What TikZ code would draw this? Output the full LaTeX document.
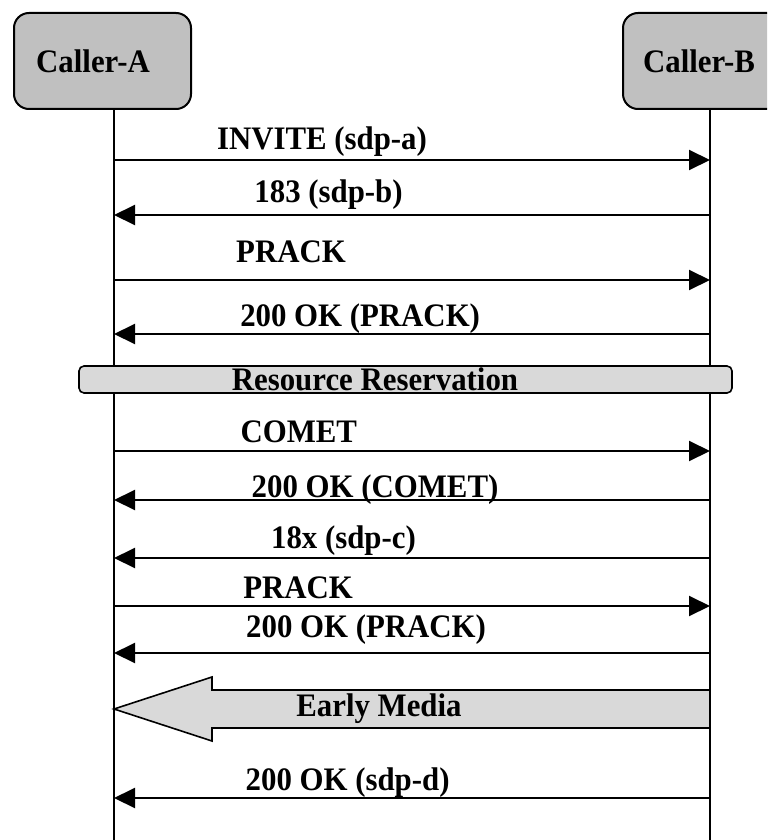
\documentclass[tikz,border=0pt]{standalone}
\usepackage{fontspec}
\setmainfont{Liberation Serif}[FakeStretch=0.94]
\usetikzlibrary{arrows.meta}
\definecolor{boxG}{RGB}{192,192,192}
\definecolor{barG}{RGB}{217,217,217}

\begin{document}
\begin{tikzpicture}[x=0.5pt,y=-0.5pt,>={Triangle[length=10.5pt,width=10pt]},
  txt/.style={font=\bfseries\fontsize{16.4}{19}\selectfont,inner sep=0pt},
  party/.style={draw,line width=1pt,rounded corners=7.5pt,fill=boxG,minimum width=88.5pt,minimum height=48pt},
  resbar/.style={draw,line width=0.8pt,rounded corners=2.5pt,fill=barG,minimum width=326.5pt,minimum height=13.5pt},
  msg/.style={line width=1pt},
  life/.style={line width=0.8pt}]
\useasboundingbox (0,0) rectangle (767,840);
\clip (0,0) rectangle (767,840);
% parties and lifelines
\node[party,label={[txt,xshift=-4.75pt]center:Caller-A}] (callerA) at (102.5,61) {};
\node[party,label={[txt,xshift=-6.25pt]center:Caller-B}] (callerB) at (711.5,61) {};
\coordinate (topA) at (114,109);
\coordinate (botA) at (114,840);
\coordinate (topB) at (710,109);
\coordinate (botB) at (710,840);
\draw[life] (topA) -- (botA);
\draw[life] (topB) -- (botB);
\foreach \y [count=\i] in {160,215,280,334,451,500,558,606,653,798}{
  \coordinate (a\i) at (114,\y);
  \coordinate (b\i) at (710,\y);
}
% offer / answer
\draw[msg,->] (a1) -- node[txt,pos=.349,yshift=9pt]{INVITE (sdp-a)} (b1);
\draw[msg,<-] (a2) -- node[txt,pos=.360,yshift=10pt]{183 (sdp-b)} (b2);
\draw[msg,->] (a3) -- node[txt,pos=.297,yshift=14pt]{PRACK} (b3);
\draw[msg,<-] (a4) -- node[txt,pos=.413,yshift=7.5pt]{200 OK (PRACK)} (b4);
% reservation
\node[resbar,label={[txt,xshift=-15.25pt]center:Resource Reservation}] (resv) at (405.5,379.5) {};
\draw[msg,->] (a5) -- node[txt,pos=.310,yshift=9.5pt]{COMET} (b5);
\draw[msg,<-] (a6) -- node[txt,pos=.438,yshift=5pt]{200 OK (COMET)} (b6);
\draw[msg,<-] (a7) -- node[txt,pos=.385,yshift=8.5pt]{18x (sdp-c)} (b7);
\draw[msg,->] (a8) -- node[txt,pos=.309,yshift=9pt]{PRACK} (b8);
\draw[msg,<-] (a9) -- node[txt,pos=.423,yshift=11.5pt]{200 OK (PRACK)} (b9);
% early media
\draw[line width=0.8pt,fill=barG] (710,690) -- (212,690) -- (212,677) -- (114,709)
  -- (212,741) -- (212,728) -- (710,728) -- cycle;
\node[txt] (media) at (379,709) {Early Media};
\draw[msg,<-] (a10) -- node[txt,pos=.392,yshift=7.5pt]{200 OK (sdp-d)} (b10);
\end{tikzpicture}
\end{document}
